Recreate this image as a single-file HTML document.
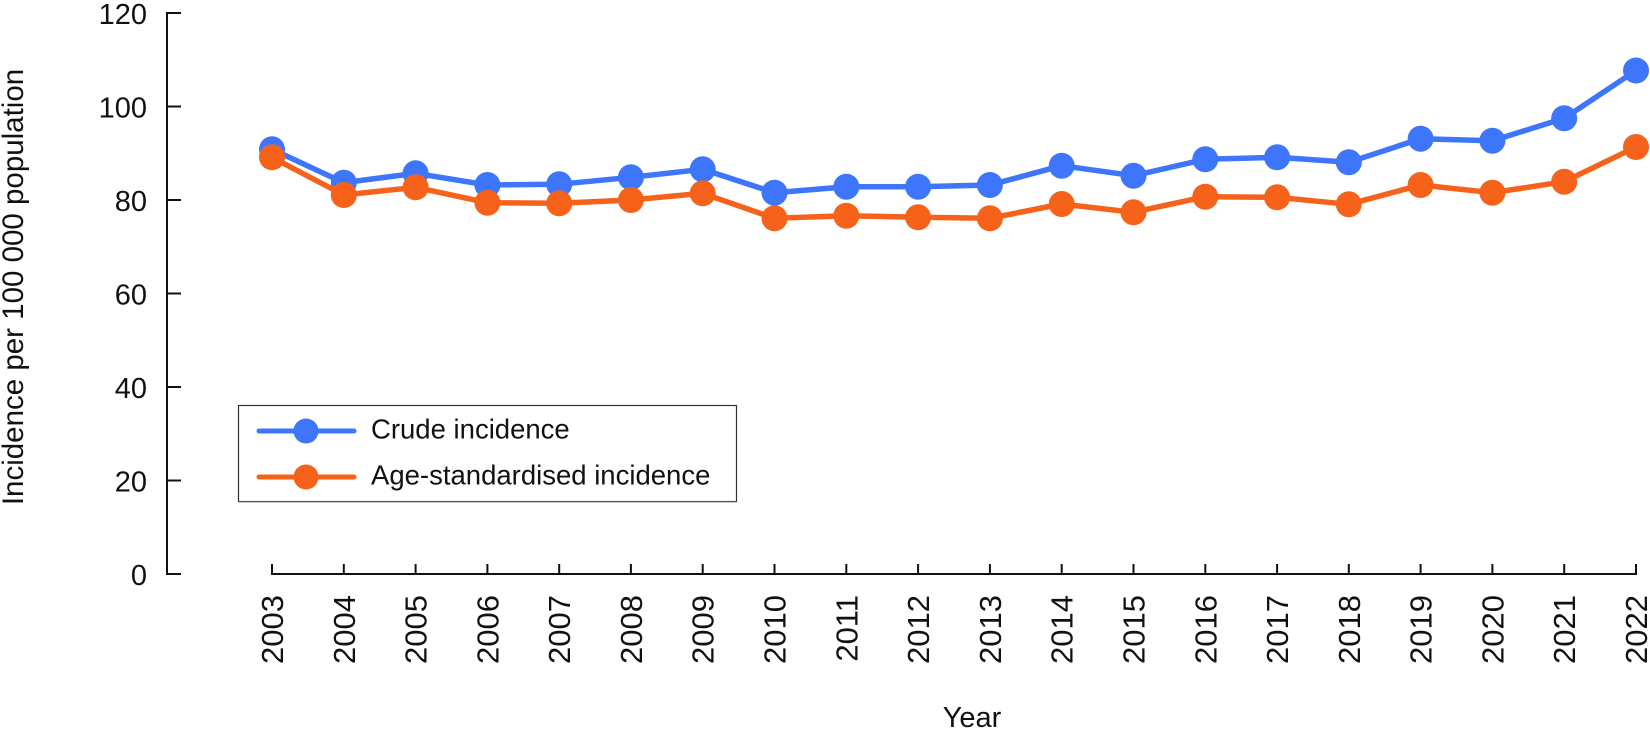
<!DOCTYPE html>
<html>
<head>
<meta charset="utf-8">
<style>
  html, body { margin: 0; padding: 0; background: #ffffff; }
  svg { display: block; }
  text { font-family: "Liberation Sans", "DejaVu Sans", sans-serif; fill: #111; }
</style>
</head>
<body>
<svg width="1650" height="735" viewBox="0 0 1650 735" xmlns="http://www.w3.org/2000/svg">
  <!-- Y axis -->
  <g stroke="#111" stroke-width="2" fill="none">
    <line x1="167" y1="12" x2="167" y2="575"/>
    <line x1="167" y1="13" x2="181" y2="13"/>
    <line x1="167" y1="106.5" x2="181" y2="106.5"/>
    <line x1="167" y1="200" x2="181" y2="200"/>
    <line x1="167" y1="293.5" x2="181" y2="293.5"/>
    <line x1="167" y1="387" x2="181" y2="387"/>
    <line x1="167" y1="480.5" x2="181" y2="480.5"/>
    <line x1="167" y1="574" x2="181" y2="574"/>
  </g>
  <g font-size="29" text-anchor="end">
    <text x="147" y="24">120</text>
    <text x="147" y="117.5">100</text>
    <text x="147" y="211">80</text>
    <text x="147" y="304.5">60</text>
    <text x="147" y="398">40</text>
    <text x="147" y="491.5">20</text>
    <text x="147" y="585">0</text>
  </g>
  <text font-size="29.5" text-anchor="middle" transform="translate(23,287) rotate(-90)">Incidence per 100 000 population</text>

  <!-- X axis -->
  <g stroke="#111" stroke-width="2" fill="none">
    <line x1="271" y1="574" x2="1637" y2="574"/>
    <line x1="272" y1="564" x2="272" y2="574"/>
    <line x1="343.8" y1="564" x2="343.8" y2="574"/>
    <line x1="415.6" y1="564" x2="415.6" y2="574"/>
    <line x1="487.4" y1="564" x2="487.4" y2="574"/>
    <line x1="559.2" y1="564" x2="559.2" y2="574"/>
    <line x1="630.9" y1="564" x2="630.9" y2="574"/>
    <line x1="702.7" y1="564" x2="702.7" y2="574"/>
    <line x1="774.5" y1="564" x2="774.5" y2="574"/>
    <line x1="846.3" y1="564" x2="846.3" y2="574"/>
    <line x1="918.1" y1="564" x2="918.1" y2="574"/>
    <line x1="989.9" y1="564" x2="989.9" y2="574"/>
    <line x1="1061.7" y1="564" x2="1061.7" y2="574"/>
    <line x1="1133.5" y1="564" x2="1133.5" y2="574"/>
    <line x1="1205.3" y1="564" x2="1205.3" y2="574"/>
    <line x1="1277.1" y1="564" x2="1277.1" y2="574"/>
    <line x1="1348.8" y1="564" x2="1348.8" y2="574"/>
    <line x1="1420.6" y1="564" x2="1420.6" y2="574"/>
    <line x1="1492.4" y1="564" x2="1492.4" y2="574"/>
    <line x1="1564.2" y1="564" x2="1564.2" y2="574"/>
    <line x1="1636" y1="564" x2="1636" y2="574"/>
  </g>
  <g font-size="31" text-anchor="end">
    <text transform="translate(283,595) rotate(-90)">2003</text>
    <text transform="translate(354.8,595) rotate(-90)">2004</text>
    <text transform="translate(426.6,595) rotate(-90)">2005</text>
    <text transform="translate(498.4,595) rotate(-90)">2006</text>
    <text transform="translate(570.2,595) rotate(-90)">2007</text>
    <text transform="translate(641.9,595) rotate(-90)">2008</text>
    <text transform="translate(713.7,595) rotate(-90)">2009</text>
    <text transform="translate(785.5,595) rotate(-90)">2010</text>
    <text transform="translate(857.3,595) rotate(-90)">2011</text>
    <text transform="translate(929.1,595) rotate(-90)">2012</text>
    <text transform="translate(1000.9,595) rotate(-90)">2013</text>
    <text transform="translate(1072.7,595) rotate(-90)">2014</text>
    <text transform="translate(1144.5,595) rotate(-90)">2015</text>
    <text transform="translate(1216.3,595) rotate(-90)">2016</text>
    <text transform="translate(1288.1,595) rotate(-90)">2017</text>
    <text transform="translate(1359.8,595) rotate(-90)">2018</text>
    <text transform="translate(1431.6,595) rotate(-90)">2019</text>
    <text transform="translate(1503.4,595) rotate(-90)">2020</text>
    <text transform="translate(1575.2,595) rotate(-90)">2021</text>
    <text transform="translate(1647,595) rotate(-90)">2022</text>
  </g>
  <text x="972" y="727" font-size="29" text-anchor="middle">Year</text>

  <!-- Crude incidence (blue) -->
  <polyline fill="none" stroke="#3d76fb" stroke-width="5.5" stroke-linejoin="round"
    points="272,149.3 343.8,182.7 415.6,173.3 487.4,185 559.2,184.3 630.9,177.3 702.7,169.3 774.5,192.7 846.3,186.7 918.1,186.7 989.9,185 1061.7,165.7 1133.5,175.7 1205.3,159.3 1277.1,157.3 1348.8,162.3 1420.6,138.7 1492.4,140.7 1564.2,118.3 1636,70.5"/>
  <g fill="#3d76fb">
    <circle cx="272" cy="149.3" r="13"/>
    <circle cx="343.8" cy="182.7" r="13"/>
    <circle cx="415.6" cy="173.3" r="13"/>
    <circle cx="487.4" cy="185" r="13"/>
    <circle cx="559.2" cy="184.3" r="13"/>
    <circle cx="630.9" cy="177.3" r="13"/>
    <circle cx="702.7" cy="169.3" r="13"/>
    <circle cx="774.5" cy="192.7" r="13"/>
    <circle cx="846.3" cy="186.7" r="13"/>
    <circle cx="918.1" cy="186.7" r="13"/>
    <circle cx="989.9" cy="185" r="13"/>
    <circle cx="1061.7" cy="165.7" r="13"/>
    <circle cx="1133.5" cy="175.7" r="13"/>
    <circle cx="1205.3" cy="159.3" r="13"/>
    <circle cx="1277.1" cy="157.3" r="13"/>
    <circle cx="1348.8" cy="162.3" r="13"/>
    <circle cx="1420.6" cy="138.7" r="13"/>
    <circle cx="1492.4" cy="140.7" r="13"/>
    <circle cx="1564.2" cy="118.3" r="13"/>
    <circle cx="1636" cy="70.5" r="13"/>
  </g>

  <!-- Age-standardised incidence (orange) -->
  <polyline fill="none" stroke="#f7621a" stroke-width="5.5" stroke-linejoin="round"
    points="272,157.3 343.8,195 415.6,187.3 487.4,202.7 559.2,203.3 630.9,200 702.7,193.3 774.5,218.3 846.3,215.7 918.1,217.3 989.9,218.3 1061.7,204 1133.5,212.3 1205.3,196.7 1277.1,197.3 1348.8,204.3 1420.6,185 1492.4,192.7 1564.2,181.7 1636,147"/>
  <g fill="#f7621a">
    <circle cx="272" cy="157.3" r="13"/>
    <circle cx="343.8" cy="195" r="13"/>
    <circle cx="415.6" cy="187.3" r="13"/>
    <circle cx="487.4" cy="202.7" r="13"/>
    <circle cx="559.2" cy="203.3" r="13"/>
    <circle cx="630.9" cy="200" r="13"/>
    <circle cx="702.7" cy="193.3" r="13"/>
    <circle cx="774.5" cy="218.3" r="13"/>
    <circle cx="846.3" cy="215.7" r="13"/>
    <circle cx="918.1" cy="217.3" r="13"/>
    <circle cx="989.9" cy="218.3" r="13"/>
    <circle cx="1061.7" cy="204" r="13"/>
    <circle cx="1133.5" cy="212.3" r="13"/>
    <circle cx="1205.3" cy="196.7" r="13"/>
    <circle cx="1277.1" cy="197.3" r="13"/>
    <circle cx="1348.8" cy="204.3" r="13"/>
    <circle cx="1420.6" cy="185" r="13"/>
    <circle cx="1492.4" cy="192.7" r="13"/>
    <circle cx="1564.2" cy="181.7" r="13"/>
    <circle cx="1636" cy="147" r="13"/>
  </g>

  <!-- Legend -->
  <rect x="238.5" y="405.5" width="498" height="96" fill="#ffffff" stroke="#333" stroke-width="1.2"/>
  <line x1="238.5" y1="502" x2="736.5" y2="502" stroke="#888" stroke-width="1"/>
  <line x1="259" y1="431" x2="354" y2="431" stroke="#3d76fb" stroke-width="5" stroke-linecap="round"/>
  <circle cx="306" cy="431" r="12.5" fill="#3d76fb"/>
  <line x1="259" y1="477" x2="354" y2="477" stroke="#f7621a" stroke-width="5" stroke-linecap="round"/>
  <circle cx="306" cy="477" r="12.5" fill="#f7621a"/>
  <text x="371" y="438.5" font-size="27.5">Crude incidence</text>
  <text x="371" y="484.5" font-size="27.5">Age-standardised incidence</text>
</svg>
</body>
</html>
